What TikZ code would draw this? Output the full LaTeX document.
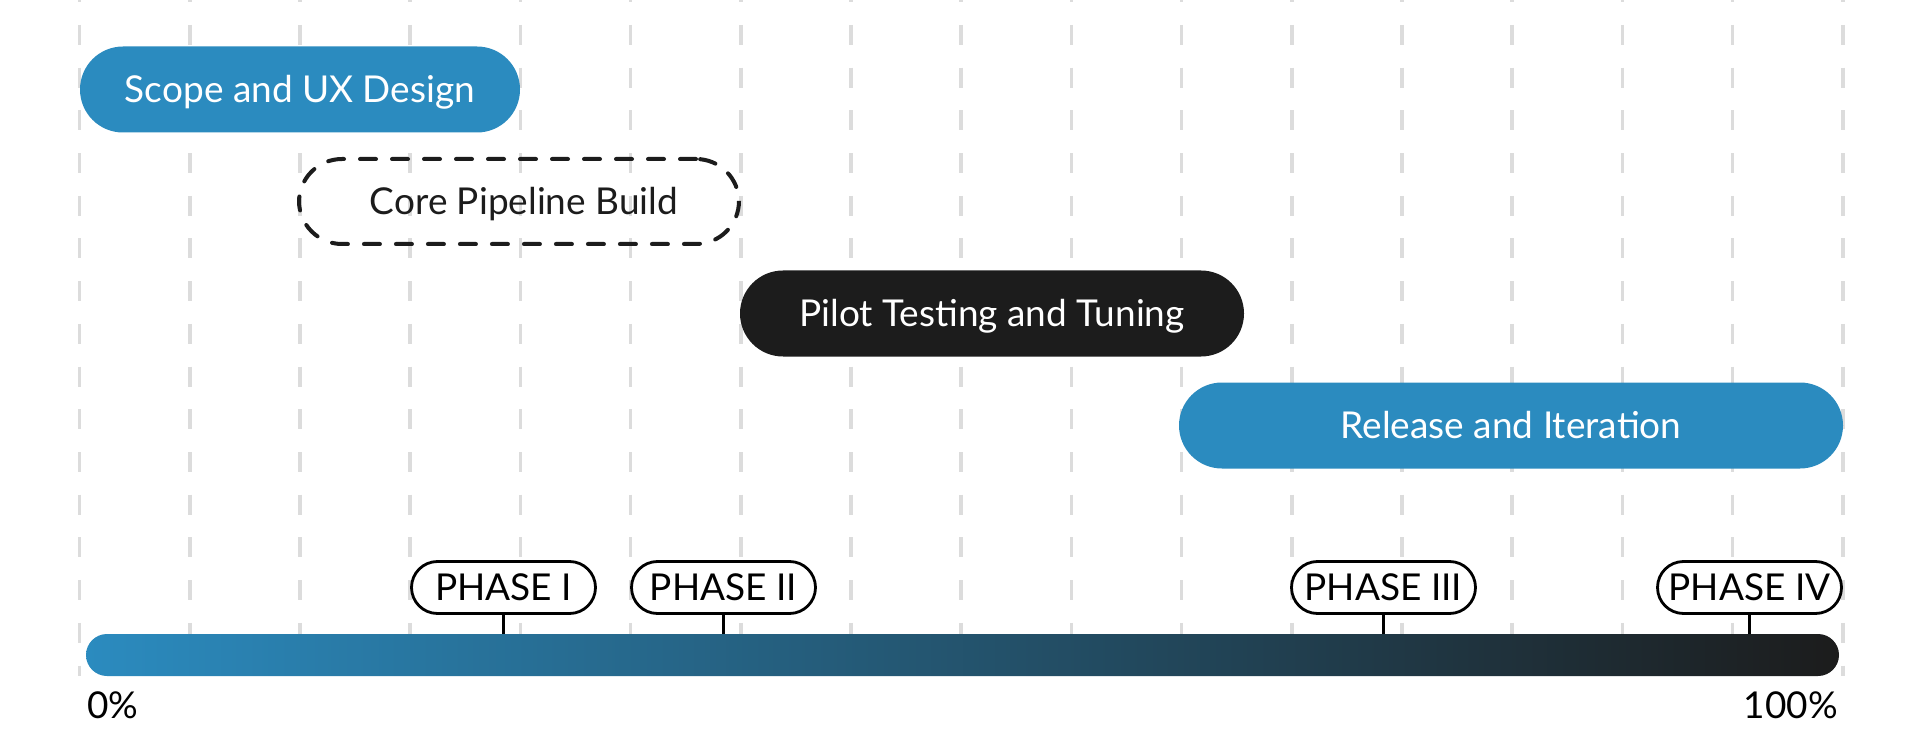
\documentclass[tikz,border=0pt]{standalone}
\usepackage{fontspec}
\setmainfont{Lato}
\definecolor{pblue}{HTML}{2B8BBF}
\definecolor{pdark}{HTML}{1C1C1C}
\definecolor{pgrid}{HTML}{DCDCDC}
\begin{document}
\begin{tikzpicture}[x=1pt,y=-1pt,
  gridline/.style={draw=pgrid, line width=3.6pt, dash pattern=on 20pt off 22.7pt},
  pill/.style={rectangle, rounded corners=43pt, minimum height=86pt, inner sep=0pt,
    text height=26.5pt, text depth=0pt, font=\fontsize{37}{44}\selectfont},
  bluepill/.style={pill, fill=pblue, text=white},
  darkpill/.style={pill, fill=pdark, text=white},
  dashpill/.style={pill, draw=pdark, text=pdark, line width=4pt, line cap=round,
    dash pattern=on 16pt off 16pt},
  phase/.style={rectangle, draw=black, fill=white, line width=2.8pt, rounded corners=26pt,
    minimum width=184pt, minimum height=52pt, inner sep=0pt, text=black,
    text height=26.5pt, text depth=0pt, font=\fontsize{37}{44}\selectfont},
  stem/.style={draw=black, line width=2.8pt},
  pct/.style={inner sep=0pt, text=black, font=\fontsize{37}{44}\selectfont}
]
\useasboundingbox (0,0) rectangle (1920,751);
\clip (0,0) rectangle (1920,751);
\fill[white] (0,0) rectangle (1920,751);
% grid
\foreach \k in {0,...,16}{
  \draw[gridline] ({79.6+110.2*\k},-17.7) -- ({79.6+110.2*\k},676);
}
% task pills
\node[bluepill, minimum width=440pt] (scope) at (300,89.5) {Scope and UX Design};
\node[dashpill, minimum width=440pt, minimum height=85pt] (core) at (519,201.5) {\hspace*{10pt}Core Pipeline Build};
\node[darkpill, minimum width=504pt] (pilot) at (992,313.5) {Pilot Testing and Tuning};
\node[bluepill, minimum width=664pt] (release) at (1511,425.5) {Release and Iteration};
% timeline bar
\node[rectangle, minimum width=1753pt, minimum height=42pt, rounded corners=21pt,
  inner sep=0pt, left color=pblue, right color=pdark] (bar) at (962.5,655) {};
% phase labels
\node[phase] (p1) at (503.5,587.5) {PHASE I};
\node[phase] (p2) at (723.5,587.5) {PHASE II};
\node[phase] (p3) at (1383.5,587.5) {PHASE III};
\node[phase] (p4) at (1749.5,587.5) {PHASE IV};
\foreach \p in {p1,p2,p3,p4}{
  \draw[stem] (\p.south) -- (\p.south |- bar.north);
}
% percent labels
\node[pct, anchor=base west] (zero) at (87,718) {0\%};
\node[pct, anchor=base east] (hundred) at (1838,718) {100\%};
\end{tikzpicture}
\end{document}
